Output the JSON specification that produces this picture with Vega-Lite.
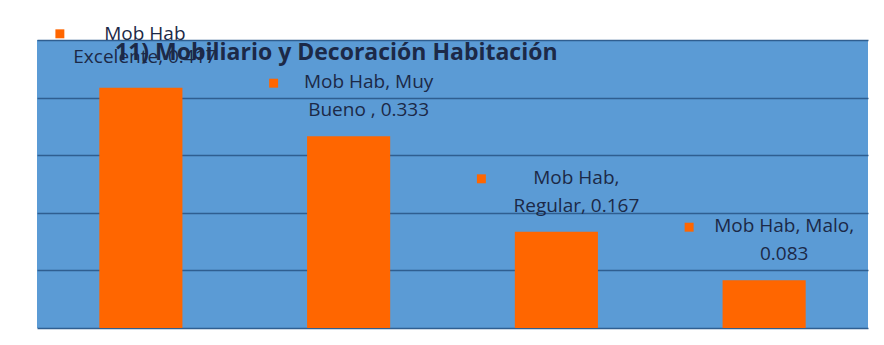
{
  "$schema": "https://vega.github.io/schema/vega-lite/v6.json",
  "autosize": {"type": "none"},
  "width": 831,
  "height": 288,
  "padding": {"left": 37, "top": 40, "right": 16, "bottom": 17},
  "background": "#ffffff",
  "title": {
    "text": "11) Mobiliario y Decoración Habitación",
    "anchor": "start",
    "frame": "group",
    "dx": 78,
    "offset": -58,
    "baseline": "alphabetic",
    "font": "Open Sans",
    "fontSize": 23,
    "fontWeight": "bold",
    "color": "#1c2947"
  },
  "config": {
    "view": {"fill": "#5b9bd5", "stroke": null},
    "font": "Open Sans"
  },
  "data": {
    "values": [
      {"cat": "Excelente", "value": 0.417, "label": "Mob Hab\nExcelente, 0.417"},
      {"cat": "Muy Bueno", "value": 0.333, "label": "Mob Hab, Muy\nBueno , 0.333"},
      {"cat": "Regular", "value": 0.167, "label": "Mob Hab,\nRegular, 0.167"},
      {"cat": "Malo", "value": 0.083, "label": "Mob Hab, Malo,\n0.083"}
    ]
  },
  "encoding": {
    "x": {
      "field": "cat",
      "type": "nominal",
      "sort": null,
      "scale": {"paddingInner": 0, "paddingOuter": 0},
      "axis": null
    },
    "y": {
      "field": "value",
      "type": "quantitative",
      "scale": {"domain": [0, 0.5], "nice": false},
      "axis": {
        "values": [0, 0.1, 0.2, 0.3, 0.4, 0.5],
        "grid": true,
        "gridColor": "#2f5e90",
        "gridWidth": 1.5,
        "gridOpacity": 1,
        "labels": false,
        "ticks": false,
        "domain": false,
        "title": null
      }
    }
  },
  "layer": [
    {
      "mark": {"type": "bar", "color": "#ff6600", "width": {"band": 0.4}}
    },
    {
      "transform": [{"filter": "datum.cat === 'Excelente'"}],
      "layer": [
        {
          "mark": {"type": "point", "shape": "square", "filled": true, "color": "#ff6600", "opacity": 1, "size": 80, "xOffset": -81, "yOffset": -54}
        },
        {
          "mark": {"type": "text", "lineBreak": "\n", "baseline": "top", "align": "center", "dx": 4, "dy": -63, "fontSize": 19, "lineHeight": 23, "color": "#1c2947"},
          "encoding": {"text": {"field": "label"}}
        }
      ]
    },
    {
      "transform": [{"filter": "datum.cat !== 'Excelente'"}],
      "layer": [
        {
          "mark": {"type": "point", "shape": "square", "filled": true, "color": "#ff6600", "opacity": 1, "size": 80, "xOffset": -75, "yOffset": -53}
        },
        {
          "mark": {"type": "text", "lineBreak": "\n", "baseline": "top", "align": "center", "dx": 20, "dy": -63, "fontSize": 19, "lineHeight": 28, "color": "#1c2947"},
          "encoding": {"text": {"field": "label"}}
        }
      ]
    }
  ]
}
